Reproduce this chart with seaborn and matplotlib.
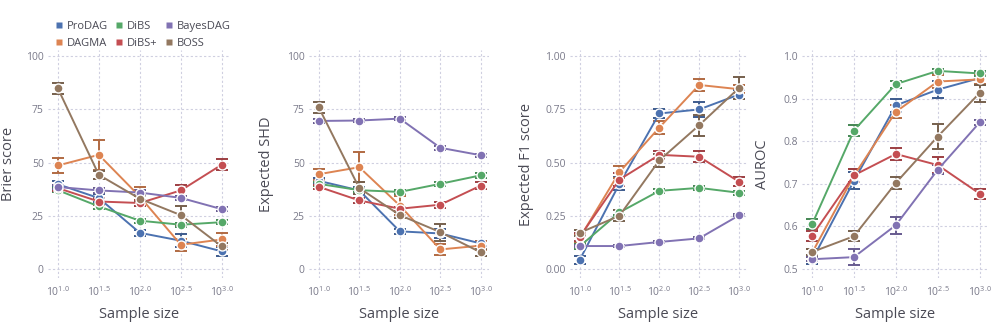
import numpy as np
import pandas as pd
import matplotlib
matplotlib.use("Agg")
import matplotlib.pyplot as plt
import matplotlib.colors as mcolors
from matplotlib.lines import Line2D
import seaborn as sns

# sample sizes 10^1.0 ... 10^3.0
exponents = [1.0, 1.5, 2.0, 2.5, 3.0]
methods = ["ProDAG", "DAGMA", "DiBS", "DiBS+", "BayesDAG", "BOSS"]

# Brier score (mean, error half-width)
brier = {
    "ProDAG": [39.8, 33.3, 17.0, 13.3, 8.3],
    "DAGMA": [48.6, 53.6, 34.0, 11.4, 13.9],
    "DiBS": [37.0, 29.4, 22.7, 20.8, 22.0],
    "DiBS+": [38.0, 31.7, 31.0, 36.9, 49.0],
    "BayesDAG": [38.5, 36.9, 35.9, 33.4, 28.1],
    "BOSS": [84.8, 44.2, 33.0, 25.3, 10.6],
}
brier_err = {
    "ProDAG": [1.5, 2.0, 1.5, 3.0, 2.0],
    "DAGMA": [3.3, 7.0, 4.5, 2.8, 3.0],
    "DiBS": [1.0, 1.0, 1.0, 1.0, 1.0],
    "DiBS+": [1.5, 1.5, 1.5, 2.5, 2.5],
    "BayesDAG": [1.0, 1.0, 1.0, 1.0, 1.0],
    "BOSS": [2.5, 2.0, 1.5, 4.5, 1.5],
}

# Expected SHD
shd = {
    "ProDAG": [41.4, 36.9, 17.7, 16.7, 12.0],
    "DAGMA": [44.5, 47.8, 29.8, 9.2, 11.0],
    "DiBS": [40.0, 37.0, 36.2, 40.0, 44.0],
    "DiBS+": [38.6, 32.2, 28.3, 30.2, 39.2],
    "BayesDAG": [69.5, 69.7, 70.6, 56.9, 53.4],
    "BOSS": [75.9, 38.0, 25.3, 17.3, 7.8],
}
shd_err = {
    "ProDAG": [1.2, 1.5, 1.2, 2.0, 1.2],
    "DAGMA": [2.5, 7.0, 4.5, 2.5, 2.0],
    "DiBS": [1.0, 1.0, 1.0, 1.0, 1.2],
    "DiBS+": [1.0, 1.0, 1.0, 1.5, 1.8],
    "BayesDAG": [0.8, 0.8, 0.8, 0.8, 0.8],
    "BOSS": [2.5, 3.0, 1.5, 4.0, 1.5],
}

# Expected F1 score
f1 = {
    "ProDAG": [0.042, 0.40, 0.73, 0.749, 0.819],
    "DAGMA": [0.145, 0.455, 0.664, 0.864, 0.844],
    "DiBS": [0.106, 0.266, 0.367, 0.381, 0.358],
    "DiBS+": [0.15, 0.42, 0.536, 0.527, 0.41],
    "BayesDAG": [0.108, 0.108, 0.127, 0.144, 0.252],
    "BOSS": [0.17, 0.25, 0.51, 0.675, 0.85],
}
f1_err = {
    "ProDAG": [0.02, 0.03, 0.02, 0.035, 0.02],
    "DAGMA": [0.02, 0.03, 0.03, 0.03, 0.02],
    "DiBS": [0.01, 0.012, 0.01, 0.01, 0.01],
    "DiBS+": [0.02, 0.03, 0.02, 0.025, 0.02],
    "BayesDAG": [0.005, 0.005, 0.005, 0.005, 0.005],
    "BOSS": [0.015, 0.025, 0.03, 0.05, 0.05],
}

# AUROC
auroc = {
    "ProDAG": [0.521, 0.707, 0.884, 0.921, 0.948],
    "DAGMA": [0.538, 0.719, 0.869, 0.94, 0.945],
    "DiBS": [0.605, 0.825, 0.934, 0.965, 0.959],
    "DiBS+": [0.578, 0.72, 0.77, 0.744, 0.677],
    "BayesDAG": [0.523, 0.528, 0.603, 0.733, 0.844],
    "BOSS": [0.54, 0.577, 0.702, 0.811, 0.913],
}
auroc_err = {
    "ProDAG": [0.008, 0.02, 0.015, 0.02, 0.015],
    "DAGMA": [0.01, 0.015, 0.015, 0.015, 0.01],
    "DiBS": [0.012, 0.012, 0.008, 0.005, 0.005],
    "DiBS+": [0.012, 0.015, 0.015, 0.018, 0.012],
    "BayesDAG": [0.005, 0.018, 0.02, 0.01, 0.005],
    "BOSS": [0.008, 0.012, 0.015, 0.03, 0.02],
}

panels = [
    ("Brier score", brier, brier_err, [0, 25, 50, 75, 100], ["0", "25", "50", "75", "100"], (-4.2, 102.8)),
    ("Expected SHD", shd, shd_err, [0, 25, 50, 75, 100], ["0", "25", "50", "75", "100"], (-4.2, 102.8)),
    ("Expected F1 score", f1, f1_err, [0, 0.25, 0.5, 0.75, 1.0], ["0.00", "0.25", "0.50", "0.75", "1.00"], (-0.042, 1.028)),
    ("AUROC", auroc, auroc_err, [0.5, 0.6, 0.7, 0.8, 0.9, 1.0], ["0.5", "0.6", "0.7", "0.8", "0.9", "1.0"], (0.479, 1.014)),
]

sns.set_theme(style="white")
plt.rcParams["font.family"] = ["Open Sans", "DejaVu Sans"]
plt.rcParams["mathtext.fontset"] = "custom"
plt.rcParams["mathtext.rm"] = "Open Sans"
plt.rcParams["mathtext.it"] = "Open Sans"

colors = dict(zip(methods, sns.color_palette("deep", 6)))

W, H = 996, 329
fig = plt.figure(figsize=(W / 100, H / 100), dpi=100)

# axes boxes in pixels: left, right; y label right edge in pixels
boxes = [(48, 230, 16), (309, 489, 274), (570, 747, 534), (802, 988, 770)]
top_px, bot_px = 50, 278

tick_col = "#7a7a8a"
lab_col = "#4a4a55"

for (ylabel, means, errs, yticks, ytl, ylim), (l, r, ylx) in zip(panels, boxes):
    ax = fig.add_axes([l / W, 1 - bot_px / H, (r - l) / W, (bot_px - top_px) / H])
    rows = []
    for m in methods:
        for e, v in zip(exponents, means[m]):
            rows.append({"n": 10 ** e, "value": v, "method": m})
    df = pd.DataFrame(rows)
    sns.lineplot(data=df, x="n", y="value", hue="method", hue_order=methods,
                 palette=colors, ax=ax, legend=False, linewidth=1.4,
                 marker="o", markersize=6.5, markeredgecolor="white",
                 markeredgewidth=1.0, zorder=3)
    for m in methods:
        dark = tuple(np.array(mcolors.to_rgb(colors[m])) * 0.8)
        ax.errorbar([10 ** e for e in exponents], means[m], yerr=errs[m],
                    fmt="none", ecolor=dark, elinewidth=1.4, capsize=4.5,
                    capthick=1.4, zorder=2)
    ax.set_xscale("log")
    ax.set_xlim(10 ** 0.88, 10 ** 3.1)
    ax.set_xticks([10 ** e for e in exponents])
    ax.set_xticklabels([r"$10^{%.1f}$" % e for e in exponents])
    ax.minorticks_off()
    ax.set_ylim(*ylim)
    ax.set_yticks(yticks)
    ax.set_yticklabels(ytl)
    ax.grid(True, color="#cfcfe0", linestyle=(0, (2, 2)), linewidth=0.8)
    for s in ax.spines.values():
        s.set_visible(False)
    ax.tick_params(axis="x", length=0, labelsize=7.5, colors=tick_col, pad=5)
    ax.tick_params(axis="y", length=0, labelsize=7.5, colors=tick_col, pad=3)
    ax.set_xlabel("Sample size", fontsize=10.5, color=lab_col)
    ax.set_ylabel(ylabel, fontsize=10.5, color=lab_col)
    ax.xaxis.set_label_coords(0.5, -(307 - bot_px) / (bot_px - top_px))
    ax.yaxis.set_label_coords((ylx - l) / (r - l), 0.5)

handles = [Line2D([], [], linestyle="none", marker="s", markersize=5,
                  markerfacecolor=colors[m], markeredgecolor="none", label=m)
           for m in methods]
fig.legend(handles=handles, ncol=3, loc="upper left", bbox_to_anchor=(48 / W, 1 - 15 / H),
           frameon=False, fontsize=8, labelcolor=lab_col, handletextpad=0.2,
           columnspacing=0.5, handlelength=1.0, labelspacing=0.6, borderpad=0)

fig.savefig("out.png", dpi=100, facecolor="white")
